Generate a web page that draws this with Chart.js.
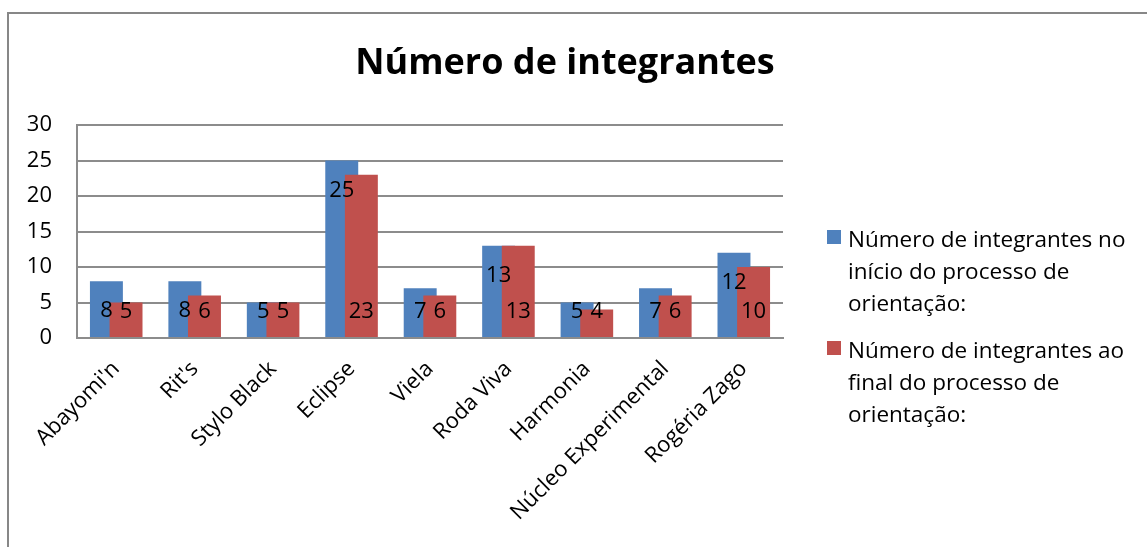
<!DOCTYPE html>
<html>
<head>
<meta charset="utf-8">
<script src="https://cdn.jsdelivr.net/npm/chart.js"></script>
<style>
  html, body { margin: 0; padding: 0; background: #fff; overflow: hidden; }
  #moldura { position: absolute; left: 7px; top: 12px; width: 1300px; height: 700px;
             border-left: 2px solid #878787; border-top: 2px solid #878787; }
  #caixa { position: absolute; left: 0; top: 0; width: 1147px; height: 547px; }
</style>
</head>
<body>
<div id="moldura"></div>
<div id="caixa"><canvas id="grafico"></canvas></div>
<script>
// dados do gráfico
const grupos = ["Abayomi'n", "Rit's", "Stylo Black", "Eclipse", "Viela", "Roda Viva", "Harmonia", "Núcleo Experimental", "Rogéria Zago"];
const inicio = [8, 8, 5, 25, 7, 13, 5, 7, 12];
const final = [5, 6, 5, 23, 6, 13, 4, 6, 10];
const ticksY = [0, 5, 10, 15, 20, 25, 30];
const titulo = "Número de integrantes";
const legenda = [
    ["Número de integrantes no", "início do processo de", "orientação:"],
    ["Número de integrantes ao", "final do processo de", "orientação:"]
];

const AZUL = '#4F81BD';
const VERMELHO = '#C0504D';
const CINZA = '#8c8c8c';
const fonte = '"Open Sans", sans-serif';

// plugin: barras sobrepostas, rótulos, título e legenda
const ajustes = {
    id: 'ajustes',
    afterDatasetsUpdate(chart) {
        const larg = chart.scales.x.width / grupos.length;
        chart.data.datasets.forEach((ds, i) => {
            const desloc = (i === 0 ? -1 : 1) * larg * 0.125;
            chart.getDatasetMeta(i).data.forEach(el => { el.x += desloc; });
        });
    },
    afterDatasetsDraw(chart) {
        const ctx = chart.ctx;
        const base = chart.scales.y.getPixelForValue(0);
        ctx.save();
        ctx.font = '22px ' + fonte;
        ctx.fillStyle = '#000';
        ctx.textAlign = 'center';
        ctx.textBaseline = 'middle';
        chart.data.datasets.forEach((ds, i) => {
            chart.getDatasetMeta(i).data.forEach((el, j) => {
                let y = base - 26;
                if (i === 0) y = Math.min(el.y + 30, y);
                ctx.fillText(String(ds.data[j]), el.x, y);
            });
        });
        ctx.restore();
    },
    afterDraw(chart) {
        const ctx = chart.ctx;
        ctx.save();
        ctx.fillStyle = '#000';
        ctx.font = 'bold 36px ' + fonte;
        ctx.textAlign = 'center';
        ctx.textBaseline = 'middle';
        ctx.fillText(titulo, 565, 64);

        // legenda
        ctx.font = '22.5px ' + fonte;
        ctx.textAlign = 'left';
        ctx.textBaseline = 'alphabetic';
        const cores = [AZUL, VERMELHO];
        legenda.forEach((linhas, i) => {
            const y0 = 247 + i * 111;
            ctx.fillStyle = cores[i];
            ctx.fillRect(827, y0 - 17, 14, 14);
            ctx.fillStyle = '#000';
            linhas.forEach((t, k) => ctx.fillText(t, 848, y0 + k * 32));
        });
        ctx.restore();
    }
};

new Chart(document.getElementById('grafico'), {
    type: 'bar',
    data: {
        labels: grupos,
        datasets: [
            { label: legenda[0].join(' '), data: inicio, backgroundColor: AZUL, order: 1 },
            { label: legenda[1].join(' '), data: final, backgroundColor: VERMELHO, order: 0 }
        ]
    },
    options: {
        responsive: true,
        maintainAspectRatio: false,
        animation: false,
        events: [],
        grouped: false,
        categoryPercentage: 1,
        barPercentage: 0.42,
        layout: { padding: { left: 0, right: 364, top: 125, bottom: 0 } },
        plugins: {
            legend: { display: false },
            title: { display: false },
            tooltip: { enabled: false }
        },
        scales: {
            x: {
                grid: { display: false },
                border: { display: true, color: CINZA, width: 2 },
                ticks: {
                    color: '#000',
                    font: { family: fonte, size: 22 },
                    minRotation: 45, maxRotation: 45,
                    autoSkip: false,
                    padding: 10
                },
                afterFit(s) { s.height = 209; }
            },
            y: {
                min: ticksY[0],
                max: ticksY[ticksY.length - 1],
                afterBuildTicks(s) { s.ticks = ticksY.map(v => ({ value: v })); },
                grid: { color: CINZA, lineWidth: 2, drawTicks: false },
                border: { display: true, color: CINZA, width: 2 },
                ticks: {
                    color: '#000',
                    font: { family: fonte, size: 22 },
                    padding: 25
                },
                afterFit(s) { s.width = 77; }
            }
        }
    },
    plugins: [ajustes]
});
</script>
</body>
</html>
